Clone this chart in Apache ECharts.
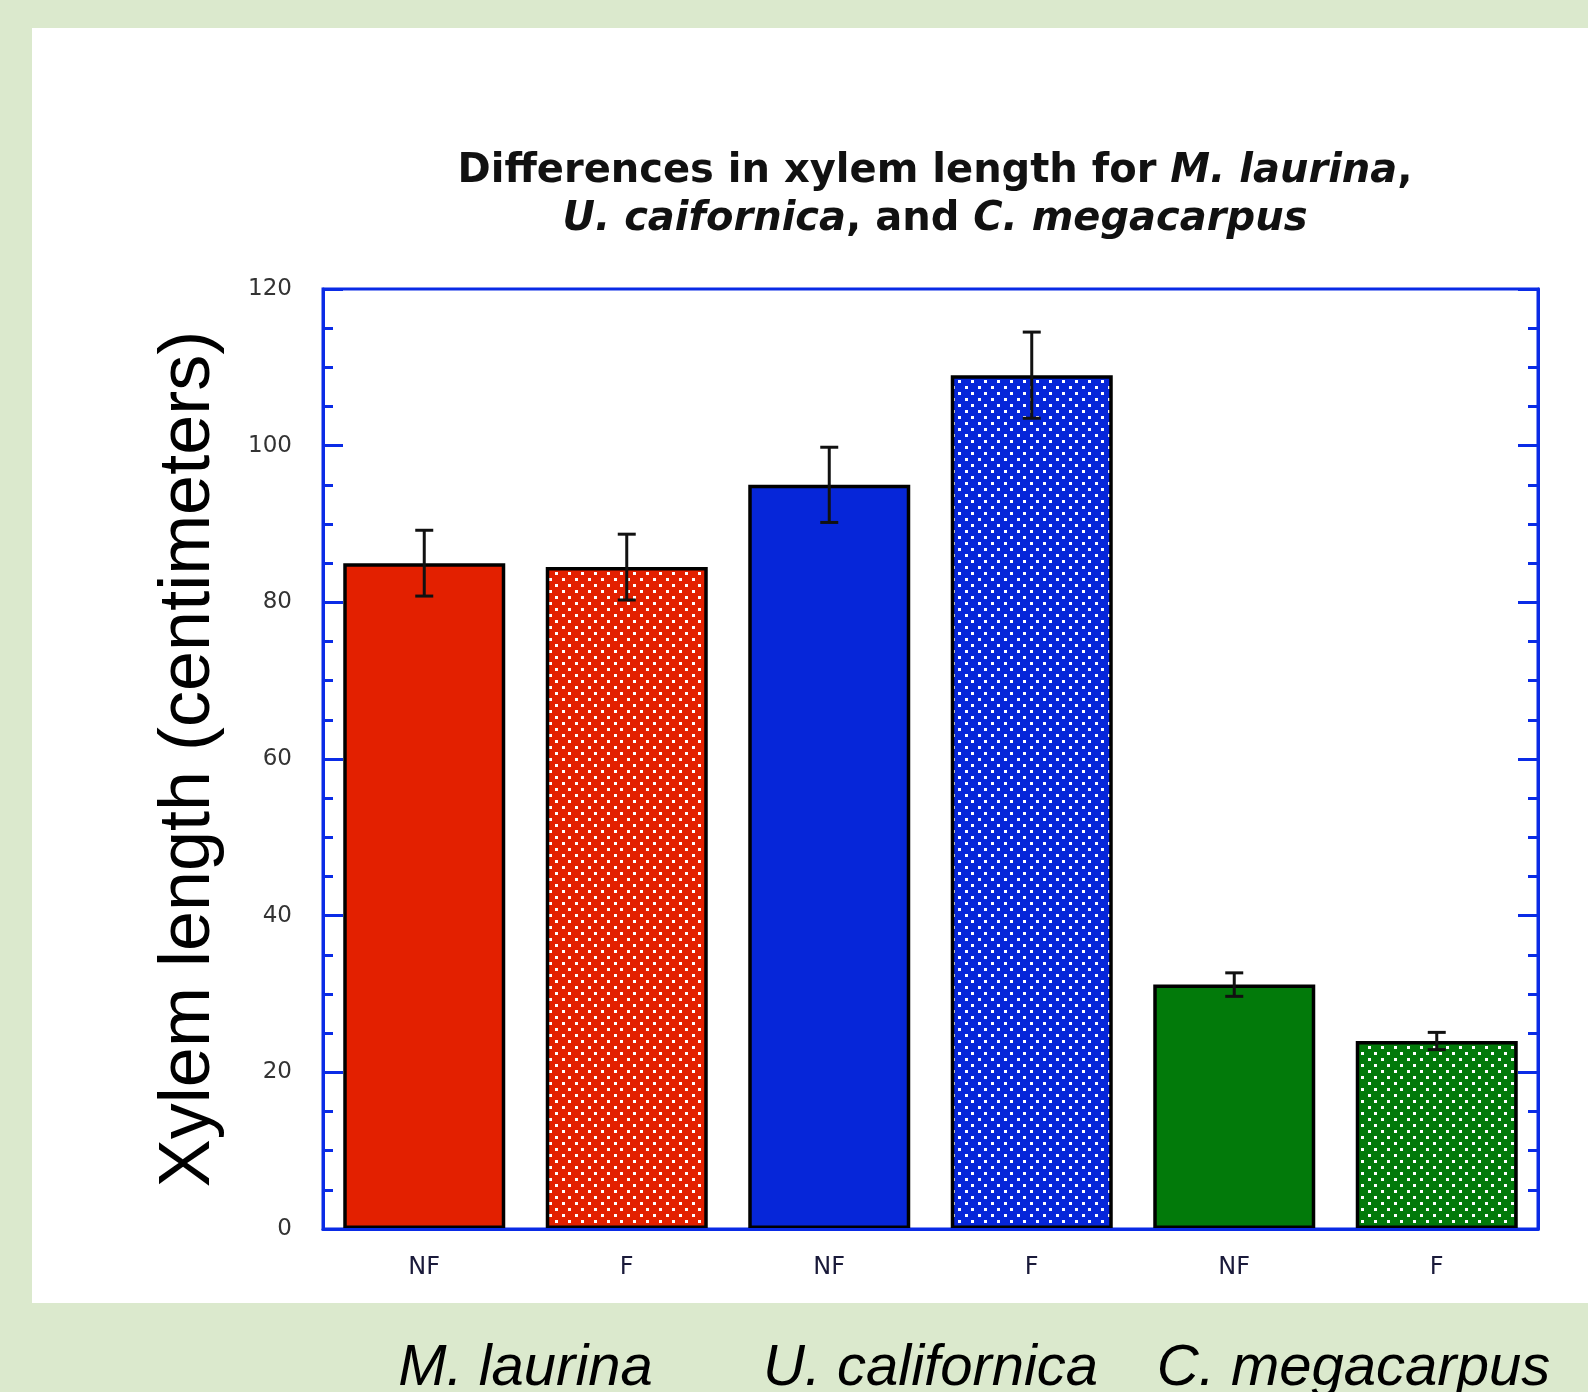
<!DOCTYPE html>
<html>
<head>
<meta charset="utf-8">
<script src="https://cdn.jsdelivr.net/npm/echarts@6/dist/echarts.min.js"></script>
<style>
  html, body { margin: 0; padding: 0; background: #dbe9cd; }
  #panel { position: absolute; left: 32px; top: 28px; width: 1556px; height: 1275px; background: #fff; }
  #chart { position: absolute; left: 0; top: 0; width: 1588px; height: 1392px; }
</style>
</head>
<body>
<div id="panel"></div>
<div id="chart"></div>
<script>
'use strict';

// data
var categories = ['NF', 'F', 'NF', 'F', 'NF', 'F'];
var groups = ['M. laurina', 'U. californica', 'C. megacarpus'];
var means = [85, 84.5, 95, 109, 31.2, 24];
var errors = [4.2, 4.2, 4.8, 5.5, 1.5, 1.1];
var yTicks = [0, 20, 40, 60, 80, 100, 120];

var groupColors = ['#e32000', '#0626d9', '#027a0a'];
var axisBlue = '#0a2be6';

// white dot pattern on a coloured background
function dots(color) {
  var c = document.createElement('canvas');
  c.width = 13; c.height = 12;
  var g = c.getContext('2d');
  g.fillStyle = color;
  g.fillRect(0, 0, 13, 12);
  g.fillStyle = '#fff';
  g.fillRect(3, 2, 3, 3);
  g.fillRect(9, 8, 3, 3);
  return { image: c, repeat: 'repeat' };
}

var barData = means.map(function (v, i) {
  var col = groupColors[Math.floor(i / 2)];
  return {
    value: v,
    itemStyle: { color: i % 2 === 1 ? dots(col) : col }
  };
});

var errData = means.map(function (v, i) { return [i, v, errors[i]]; });

var myChart = echarts.init(document.getElementById('chart'));

var yAxisBase = {
  type: 'value',
  min: yTicks[0],
  max: yTicks[yTicks.length - 1],
  interval: 20,
  splitLine: { show: false },
  axisLine: { show: true, lineStyle: { color: axisBlue, width: 3 } },
  axisTick: { show: true, inside: true, length: 20, lineStyle: { color: axisBlue, width: 3 } },
  minorTick: { show: true, splitNumber: 4, length: 10, lineStyle: { color: axisBlue, width: 3 } },
  minorSplitLine: { show: false }
};

myChart.setOption({
  animation: false,
  title: {
    text: '{b|Differences in xylem length for }{i|M. laurina}{b|,}\n{i|U. caifornica}{b|, and }{i|C. megacarpus}',
    left: 930,
    textAlign: 'center',
    top: 143,
    textStyle: {
      rich: {
        b: { fontFamily: 'DejaVu Sans', fontWeight: 'bold', fontSize: 40, color: '#111', lineHeight: 48 },
        i: { fontFamily: 'DejaVu Sans', fontWeight: 'bold', fontStyle: 'italic', fontSize: 40, color: '#111', lineHeight: 48 }
      }
    }
  },
  grid: {
    left: 323, top: 289, width: 1215, height: 940,
    outerBoundsMode: 'none',
    containLabel: false,
    show: true, borderColor: axisBlue, borderWidth: 3, backgroundColor: 'transparent'
  },
  xAxis: [{
    type: 'category',
    data: categories,
    position: 'bottom',
    z: 10,
    axisLine: { show: true, lineStyle: { color: axisBlue, width: 3 } },
    axisTick: { show: false },
    axisLabel: { margin: 27, fontFamily: 'DejaVu Sans', fontSize: 24, color: '#1a1a3a' }
  }, {
    type: 'category',
    data: groups,
    position: 'bottom',
    axisLine: { show: false },
    axisTick: { show: false },
    axisLabel: {
      margin: 111,
      interval: 0,
      formatter: function (v, i) { return i === 2 ? '{s|' + v + '}' : '{n|' + v + '}'; },
      rich: {
        n: { fontFamily: 'Liberation Sans', fontStyle: 'italic', fontSize: 58, color: '#000' },
        s: { fontFamily: 'Liberation Sans', fontStyle: 'italic', fontSize: 58, color: '#000', padding: [0, 0, 0, 36] }
      }
    }
  }],
  yAxis: [
    Object.assign({}, yAxisBase, {
      position: 'left',
      name: 'Xylem length (centimeters)',
      nameLocation: 'middle',
      nameGap: 98,
      nameTextStyle: { fontFamily: 'Liberation Sans', fontSize: 72, color: '#000' },
      axisLabel: { margin: 31, fontFamily: 'DejaVu Sans', fontSize: 23, color: '#333' }
    }),
    Object.assign({}, yAxisBase, {
      position: 'right',
      axisLabel: { show: false }
    })
  ],
  series: [{
    type: 'bar',
    xAxisIndex: 0,
    yAxisIndex: 0,
    barCategoryGap: '20%',
    data: barData,
    itemStyle: { borderColor: '#000', borderWidth: 3.5 }
  }, {
    type: 'custom',
    xAxisIndex: 0,
    yAxisIndex: 0,
    z: 5,
    data: errData,
    encode: { x: 0, y: 1 },
    renderItem: function (params, api) {
      var x = api.value(0), m = api.value(1), e = api.value(2);
      var top = api.coord([x, m + e]);
      var bot = api.coord([x, m - e]);
      var w = 9;
      var st = { stroke: '#111', lineWidth: 3 };
      return {
        type: 'group',
        children: [
          { type: 'line', shape: { x1: top[0], y1: top[1], x2: bot[0], y2: bot[1] }, style: st },
          { type: 'line', shape: { x1: top[0] - w, y1: top[1], x2: top[0] + w, y2: top[1] }, style: st },
          { type: 'line', shape: { x1: bot[0] - w, y1: bot[1], x2: bot[0] + w, y2: bot[1] }, style: st }
        ]
      };
    }
  }]
});
</script>
</body>
</html>
